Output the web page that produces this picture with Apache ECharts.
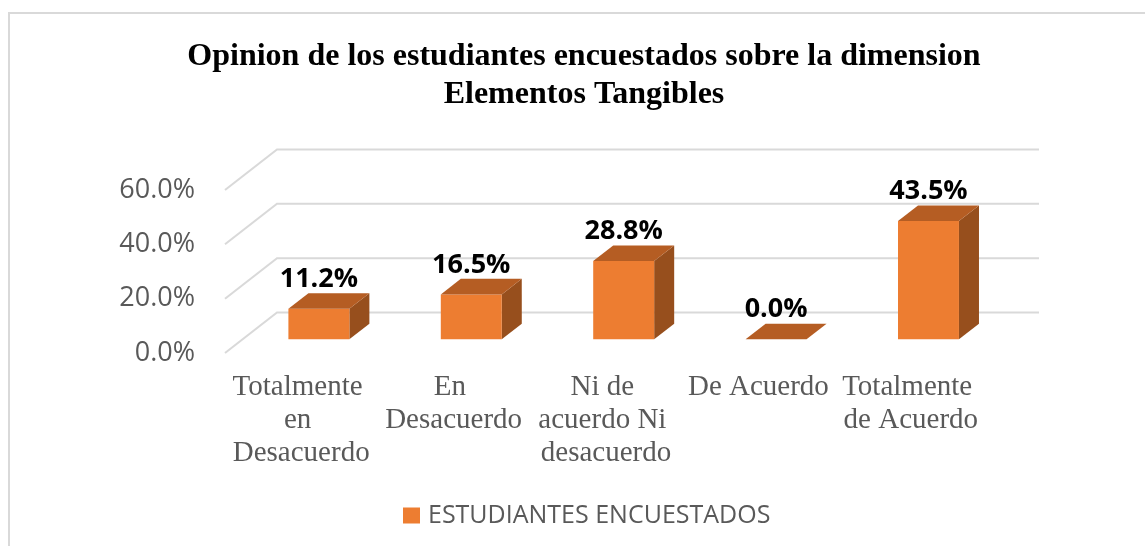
<!DOCTYPE html>
<html>
<head>
<meta charset="utf-8">
<script src="https://cdn.jsdelivr.net/npm/echarts@6/dist/echarts.min.js"></script>
<style>
  html, body { margin: 0; padding: 0; background: #fff; }
  #chart { width: 1145px; height: 546px; }
</style>
</head>
<body>
<div id="chart"></div>
<script>
var categories = ['Totalmente en Desacuerdo', 'En Desacuerdo', 'Ni de acuerdo Ni desacuerdo', 'De Acuerdo', 'Totalmente de Acuerdo'];
var values = [11.2, 16.5, 28.8, 0.0, 43.5];
var yTicks = [0, 20, 40, 60];
var seriesName = 'ESTUDIANTES ENCUESTADOS';

// oblique depth of the floor (front edge -> back wall)
var DX = 52, DY = -40.5;
var BAR_FRONT = 0.34;   // where the bar front face sits in the depth
var BAR_DEPTH = 0.385;  // how deep the bar is
var BAR_WIDTH = 0.4;    // share of the category width

var myChart = echarts.init(document.getElementById('chart'));

function renderGrid(params, api) {
	var v = api.value(1);
	var half = api.size([1, 0])[0] / 2;
	var p0 = api.coord([0, v]);
	var pN = api.coord([categories.length - 1, v]);
	var x0 = p0[0] - half, x1 = pN[0] + half, y = p0[1];
	return {
		type: 'polyline',
		shape: { points: [[x0, y], [x0 + DX, y + DY], [x1 + DX, y + DY]] },
		style: { stroke: '#D9D9D9', lineWidth: 2, fill: null }
	};
}

function renderBar(params, api) {
	var i = api.value(0), v = api.value(1);
	var base = api.coord([i, 0]);
	var top = api.coord([i, v]);
	var w = api.size([1, 0])[0] * BAR_WIDTH;
	var ox = DX * BAR_FRONT, oy = DY * BAR_FRONT;
	var ddx = DX * BAR_DEPTH, ddy = DY * BAR_DEPTH;
	var x0 = base[0] - w / 2 + ox;
	var yb = base[1] + oy;
	var yt = top[1] + oy;
	var children = [];
	if (yb - yt > 0.5) {
		children.push({
			type: 'polygon',
			shape: { points: [[x0 + w, yt], [x0 + w + ddx, yt + ddy], [x0 + w + ddx, yb + ddy], [x0 + w, yb]] },
			style: { fill: '#974F1D' }
		});
		children.push({
			type: 'rect',
			shape: { x: x0, y: yt, width: w, height: yb - yt },
			style: { fill: '#ED7D31' }
		});
	}
	children.push({
		type: 'polygon',
		shape: { points: [[x0, yt], [x0 + w, yt], [x0 + w + ddx, yt + ddy], [x0 + ddx, yt + ddy]] },
		style: { fill: '#B55D23' }
	});
	children.push({
		type: 'text',
		style: {
			text: v.toFixed(1) + '%',
			x: x0 + w / 2,
			y: yt + ddy - 14,
			align: 'center',
			verticalAlign: 'middle',
			fill: '#000',
			font: 'bold 27px "Open Sans"'
		}
	});
	return { type: 'group', children: children };
}

var option = {
	animation: false,
	backgroundColor: '#fff',
	graphic: [{
		type: 'rect',
		z: -10,
		shape: { x: 9, y: 13, width: 1200, height: 600 },
		style: { fill: null, stroke: '#D9D9D9', lineWidth: 2 }
	}],
	title: {
		text: 'Opinion de los estudiantes encuestados sobre la dimension\nElementos Tangibles',
		left: 584,
		top: 38,
		textAlign: 'center',
		padding: 0,
		textStyle: {
			fontFamily: 'Liberation Serif',
			fontWeight: 'bold',
			fontSize: 32,
			lineHeight: 38,
			color: '#000'
		}
	},
	legend: {
		data: [seriesName],
		left: 403,
		top: 503,
		padding: 0,
		icon: 'rect',
		itemWidth: 17,
		itemHeight: 16,
		textStyle: {
			fontFamily: 'Open Sans',
			fontSize: 25,
			color: '#595959',
			padding: [0, 0, 0, 3]
		}
	},
	grid: {
		left: 225,
		right: 158,
		top: 190,
		bottom: 193
	},
	xAxis: {
		type: 'category',
		data: categories,
		axisLine: { show: false },
		axisTick: { show: false },
		axisLabel: {
			interval: 0,
			margin: 18,
			width: 150,
			overflow: 'break',
			fontFamily: 'Liberation Serif',
			fontSize: 29,
			lineHeight: 33,
			color: '#595959'
		}
	},
	yAxis: {
		type: 'value',
		min: 0,
		max: 60,
		interval: 20,
		axisLine: { show: false },
		axisTick: { show: false },
		splitLine: { show: false },
		axisLabel: {
			margin: 30,
			fontFamily: 'Open Sans',
			fontSize: 27,
			color: '#595959',
			formatter: function (v) { return v.toFixed(1) + '%'; }
		}
	},
	series: [{
		name: 'grid',
		type: 'custom',
		z: 1,
		silent: true,
		renderItem: renderGrid,
		data: yTicks.map(function (t) { return [0, t]; })
	}, {
		name: seriesName,
		type: 'custom',
		z: 5,
		itemStyle: { color: '#ED7D31' },
		renderItem: renderBar,
		data: values.map(function (v, i) { return [i, v]; })
	}]
};

myChart.setOption(option);
</script>
</body>
</html>
